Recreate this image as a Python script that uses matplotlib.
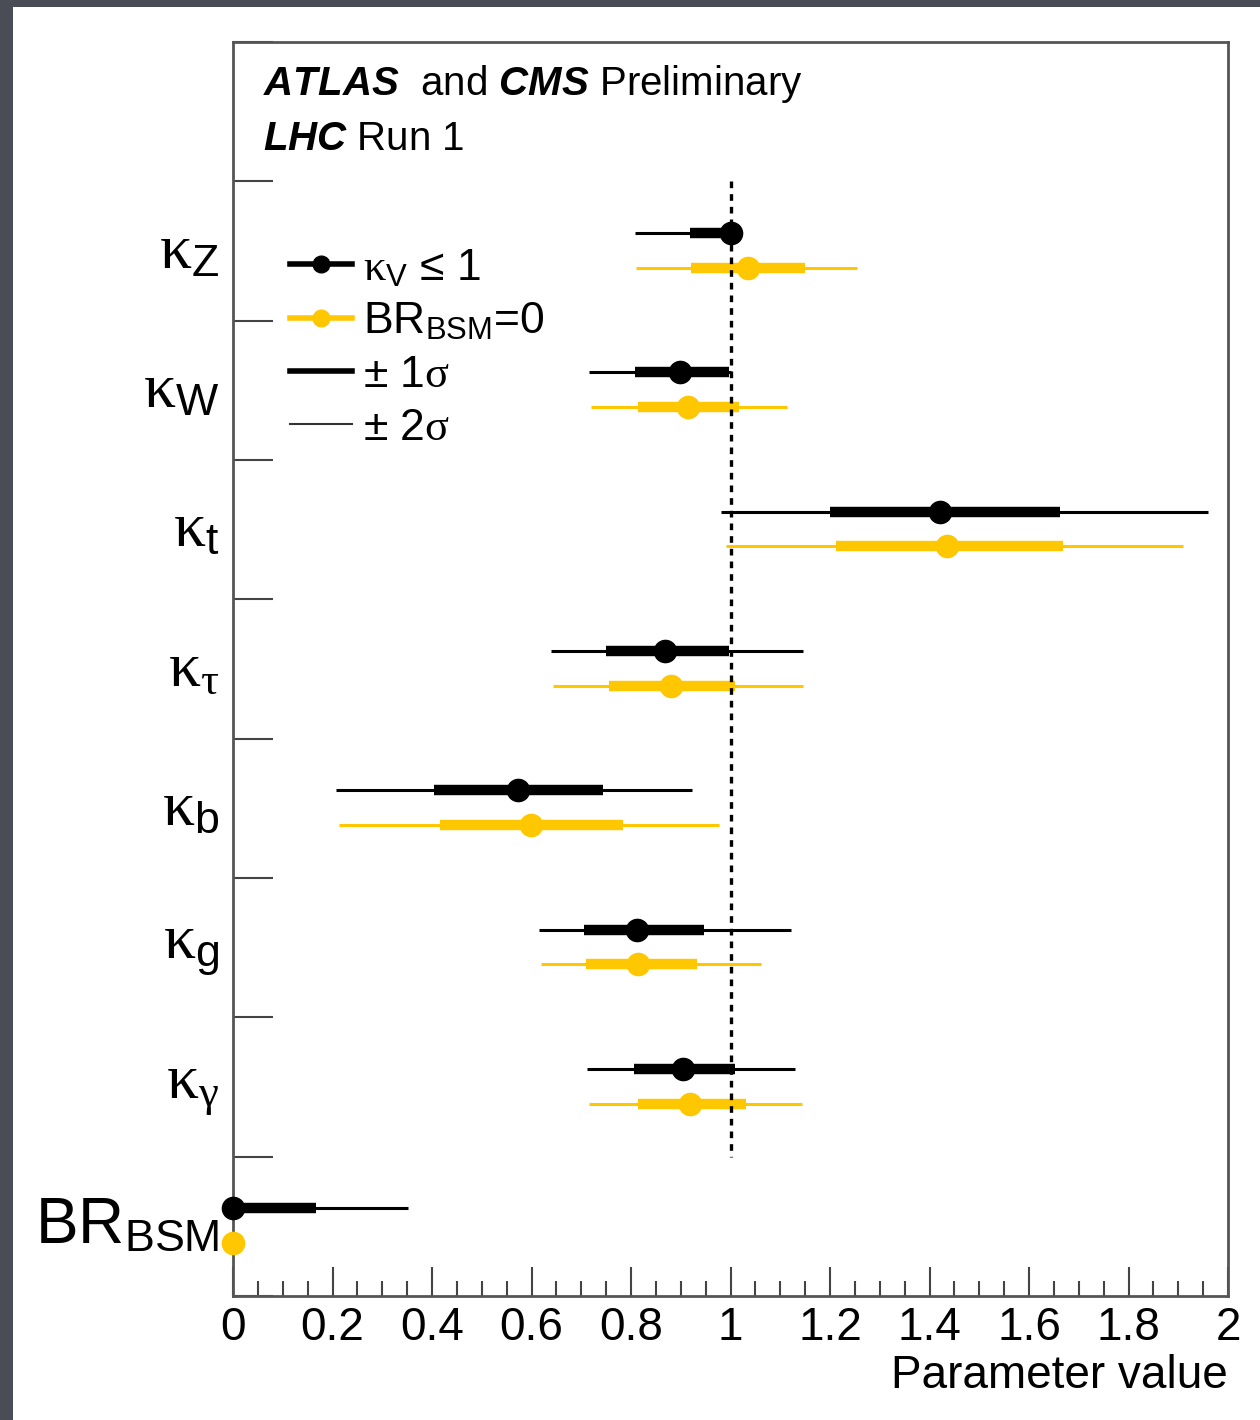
import numpy as np
import matplotlib
matplotlib.use("Agg")
import matplotlib.pyplot as plt
from matplotlib.lines import Line2D
from matplotlib.patches import Rectangle
from matplotlib.ticker import FuncFormatter, MultipleLocator

plt.rcParams["font.family"] = ["Liberation Sans", "DejaVu Sans"]
plt.rcParams["mathtext.fontset"] = "custom"
plt.rcParams["mathtext.rm"] = "Liberation Sans"
plt.rcParams["mathtext.it"] = "Liberation Serif"   # greek letters, symbol-font look
plt.rcParams["mathtext.bf"] = "Liberation Sans:bold"
plt.rcParams["mathtext.bfit"] = "Liberation Sans:bold:italic"

params = [r"$\kappa_{\mathrm{Z}}$", r"$\kappa_{\mathrm{W}}$", r"$\kappa_{\mathrm{t}}$",
          r"$\kappa_{\tau}$", r"$\kappa_{\mathrm{b}}$", r"$\kappa_{\mathrm{g}}$",
          r"$\kappa_{\gamma}$", r"$\mathrm{BR}_{\mathrm{BSM}}$"]

# kappa_V <= 1 fit (black)
kv_val = [1.000, 0.898, 1.422, 0.868, 0.573, 0.812, 0.905, 0.000]
kv_1lo = [0.919, 0.808, 1.200, 0.750, 0.404, 0.706, 0.806, 0.000]
kv_1hi = [1.000, 0.997, 1.663, 0.997, 0.744, 0.947, 1.009, 0.167]
kv_2lo = [0.808, 0.716, 0.980, 0.639, 0.207, 0.615, 0.712, 0.000]
kv_2hi = [1.000, 1.000, 1.960, 1.146, 0.923, 1.122, 1.130, 0.352]

# BR_BSM = 0 fit (yellow), BR_BSM fixed at 0
br_val = [1.035, 0.915, 1.435, 0.880, 0.599, 0.814, 0.919, 0.000]
br_1lo = [0.921, 0.814, 1.212, 0.756, 0.416, 0.710, 0.814, np.nan]
br_1hi = [1.150, 1.017, 1.668, 1.009, 0.784, 0.933, 1.031, np.nan]
br_2lo = [0.810, 0.719, 0.991, 0.643, 0.213, 0.619, 0.716, np.nan]
br_2hi = [1.254, 1.114, 1.909, 1.146, 0.977, 1.061, 1.144, np.nan]

xticks = [0, 0.2, 0.4, 0.6, 0.8, 1.0, 1.2, 1.4, 1.6, 1.8, 2.0]

black = "black"
yellow = "#ffc700"

fig = plt.figure(figsize=(12.6, 14.2), dpi=100)
fig.patch.set_facecolor("#4a4d56")
fig.add_artist(Rectangle((13 / 1260, 0), 1, 1 - 7 / 1420, transform=fig.transFigure,
                         facecolor="white", edgecolor="none", zorder=-1))

ax = fig.add_axes([233 / 1260, 1 - 1296 / 1420, 995 / 1260, 1254 / 1420])

n = len(params)
bins = np.arange(1, n + 1)
y_kv = bins + 0.37
y_br = bins + 0.62

# black: kappa_V <= 1
ax.hlines(y_kv, kv_2lo, kv_2hi, color=black, lw=2.2, zorder=3)
ax.hlines(y_kv, kv_1lo, kv_1hi, color=black, lw=7.5, zorder=3)
ax.plot(kv_val, y_kv, "o", color=black, ms=16, zorder=5, clip_on=False)

# yellow: BR_BSM = 0
ax.hlines(y_br, br_2lo, br_2hi, color=yellow, lw=2.2, zorder=3)
ax.hlines(y_br, br_1lo, br_1hi, color=yellow, lw=7.5, zorder=3)
ax.plot(br_val, y_br, "o", color=yellow, ms=16, zorder=5, clip_on=False)

# SM expectation
ax.vlines(1.0, 1, 8, color=black, lw=2.4, linestyles=(0, (2, 1.8)), zorder=4)

ax.set_xlim(0, 2)
ax.set_ylim(9, 0)

# x axis
ax.set_xticks(xticks)
ax.xaxis.set_major_formatter(FuncFormatter(lambda v, p: "%g" % v))
ax.xaxis.set_minor_locator(MultipleLocator(0.05))
ax.tick_params(axis="x", which="major", direction="in", length=21, width=1.5,
               labelsize=33, pad=7, color="#444444", top=False)
ax.tick_params(axis="x", which="minor", direction="in", length=10.5, width=1.5,
               color="#444444", top=False)
ax.set_xlabel("Parameter value", fontsize=33, loc="right", labelpad=3)

# y axis: bin edges as ticks, parameter names at bin centres
ax.set_yticks(np.arange(0, n + 2))
ax.set_yticklabels([])
ax.tick_params(axis="y", which="major", direction="in", length=29, width=1.5,
               color="#444444", right=False)
ax.set_yticks(bins + 0.5, params, minor=True)
ax.tick_params(axis="y", which="minor", length=0, pad=10, labelsize=46)
for lbl in ax.get_yticklabels(minor=True):
    lbl.set_va("center")

for s in ax.spines.values():
    s.set_color("#555555")
    s.set_linewidth(2)

ax.text(0.030, 0.958, r"$\mathbfit{ATLAS}$  and $\mathbfit{CMS}$ Preliminary",
        transform=ax.transAxes, fontsize=29, va="baseline")
ax.text(0.030, 0.914, r"$\mathbfit{LHC}$ Run 1",
        transform=ax.transAxes, fontsize=29, va="baseline")

handles = [
    Line2D([], [], color=black, lw=4, marker="o", ms=12),
    Line2D([], [], color=yellow, lw=4, marker="o", ms=12),
    Line2D([], [], color=black, lw=4),
    Line2D([], [], color="#333333", lw=1.5),
]
labels = [r"$\kappa_{\mathrm{V}}$ ≤ 1", r"BR$_{\mathrm{BSM}}$=0",
          r"± 1$\sigma$", r"± 2$\sigma$"]
ax.legend(handles, labels, loc="upper left", bbox_to_anchor=(0.057, 0.836),
          frameon=False, fontsize=32, borderpad=0, borderaxespad=0,
          handlelength=1.40, handletextpad=0.25, labelspacing=0.28)

fig.savefig("out.png", dpi=100, facecolor=fig.get_facecolor())
